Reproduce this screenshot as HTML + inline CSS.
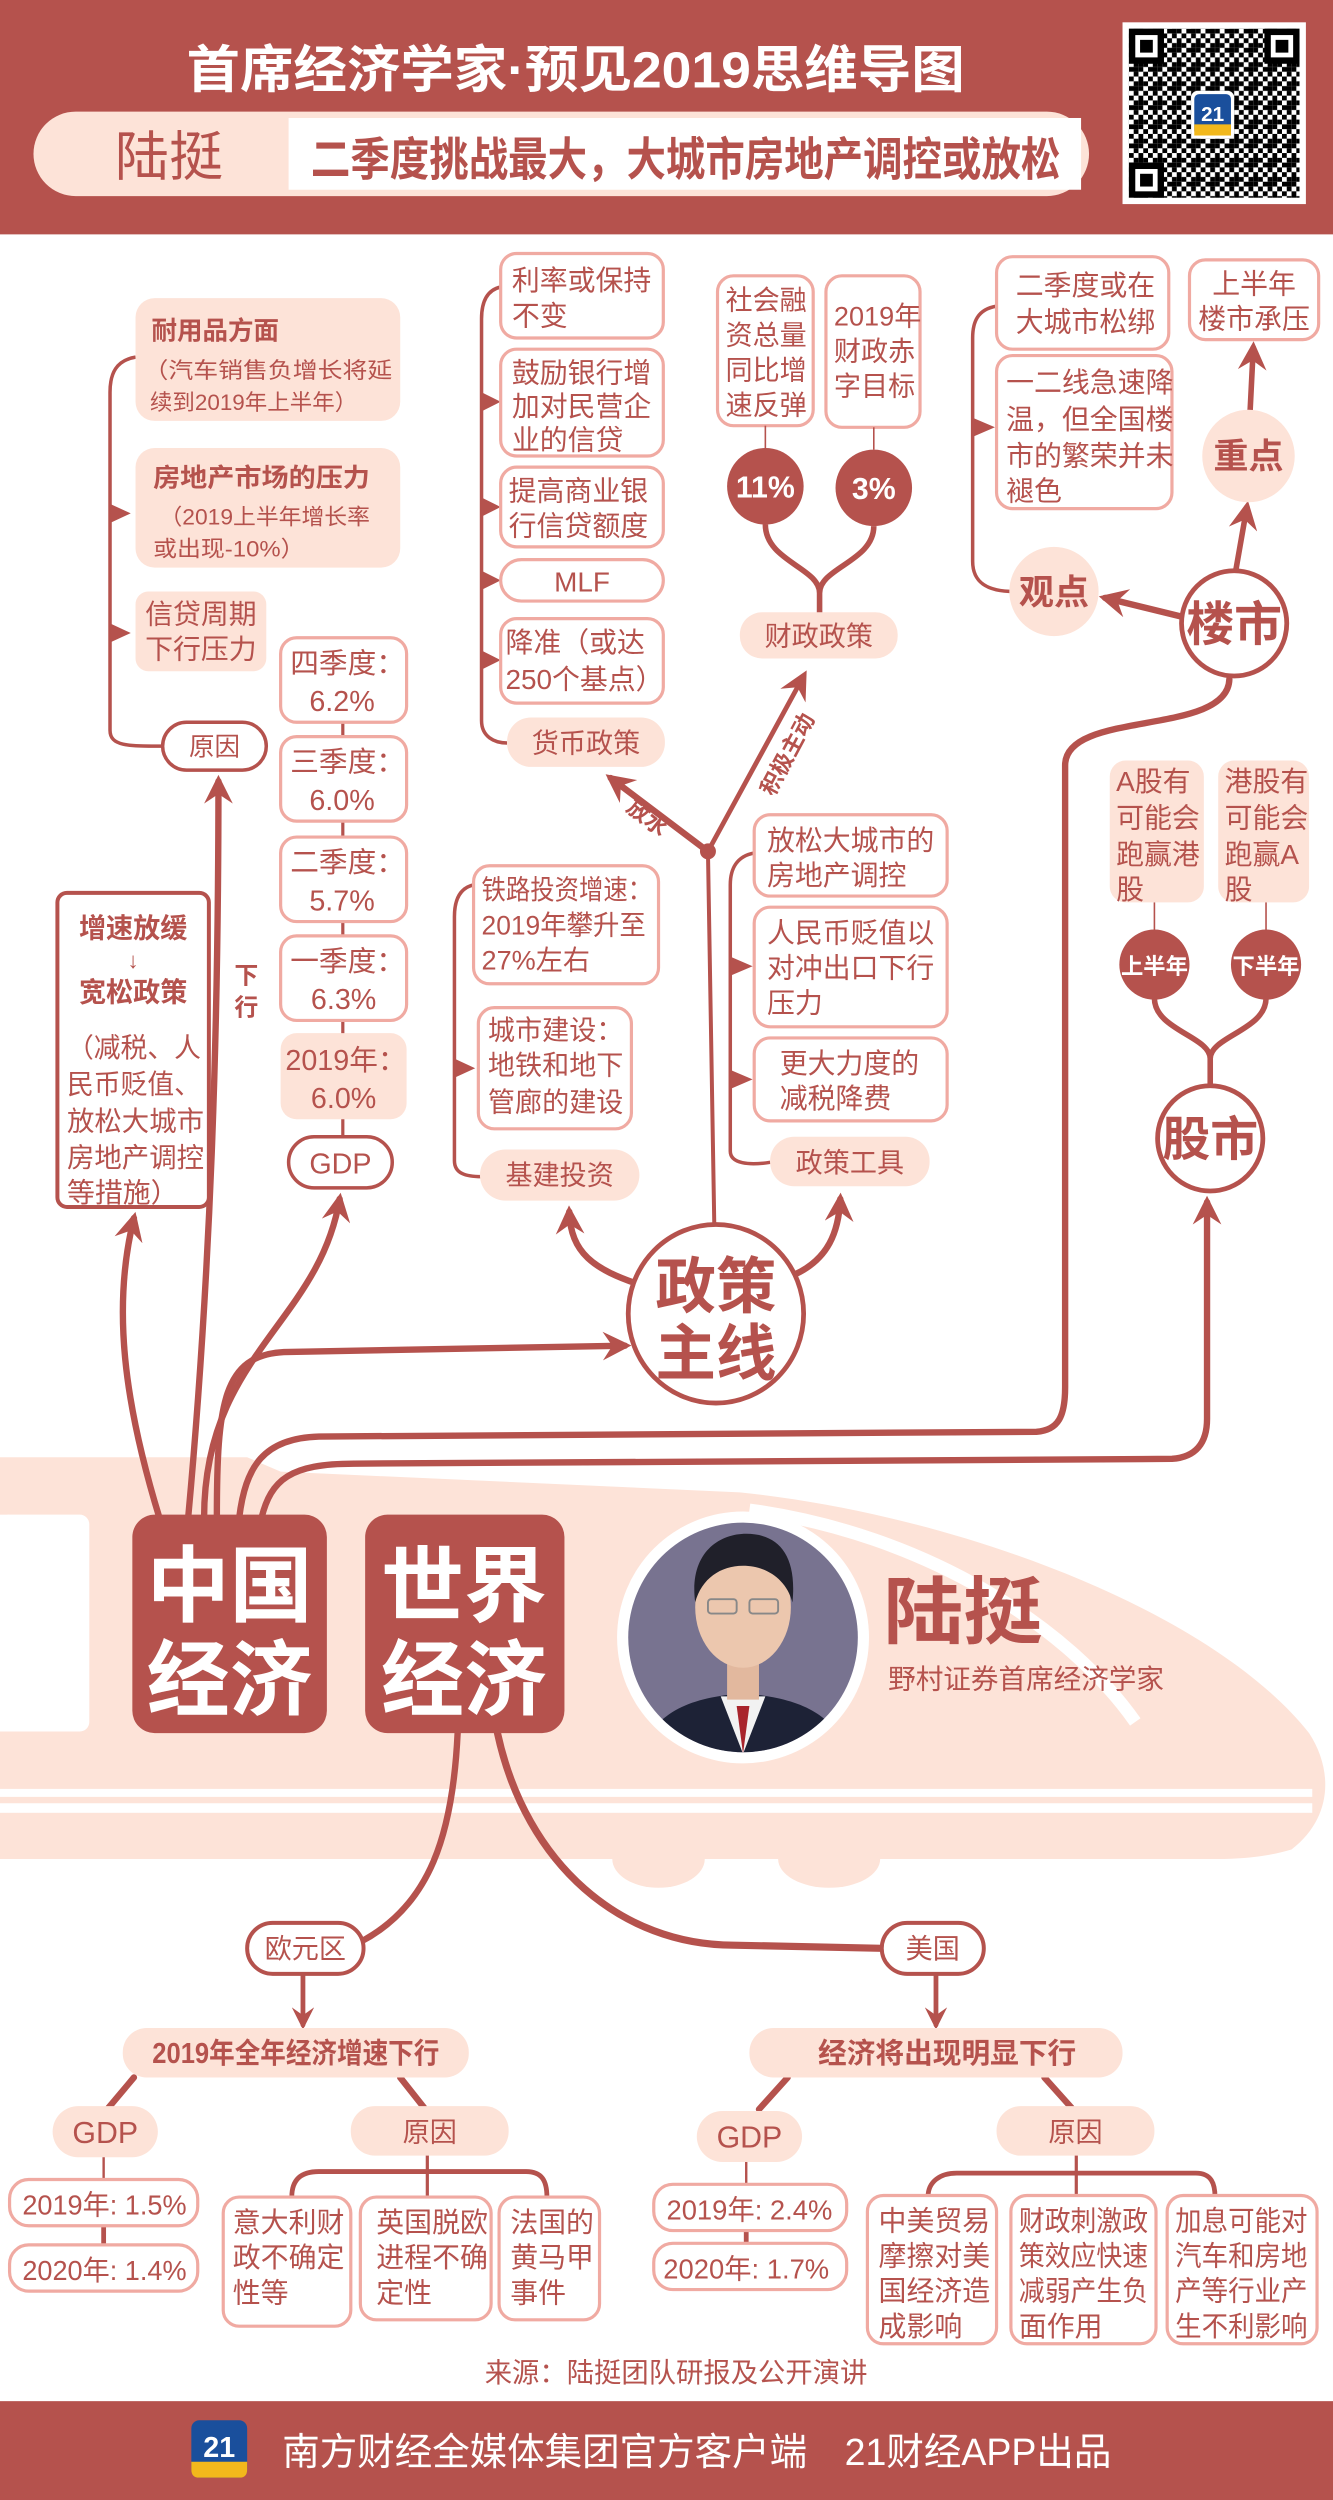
<!DOCTYPE html>
<html><head><meta charset="utf-8">
<style>
html,body{margin:0;padding:0;background:#fff;}
svg{display:block;}
text{font-family:"Liberation Sans","Noto Sans CJK SC",sans-serif;fill:#b5524d;}
.b{font-weight:700;}
.w{fill:#fff;}
</style></head><body>
<svg width="1333" height="2500" viewBox="0 0 836 1568" preserveAspectRatio="none" xmlns="http://www.w3.org/2000/svg">
<defs>
<marker id="ah" markerUnits="userSpaceOnUse" markerWidth="20" markerHeight="18" refX="14" refY="9" orient="auto">
<path d="M0,0 L18,9 L0,18 L6,9 Z" fill="#b5524d"/>
</marker>
<marker id="as" markerUnits="userSpaceOnUse" markerWidth="16" markerHeight="14" refX="11" refY="7" orient="auto">
<path d="M0,0 L14,7 L0,14 L5,7 Z" fill="#b5524d"/>
</marker>
<clipPath id="pc"><circle cx="466" cy="1027" r="72"/></clipPath>
<pattern id="qr" width="12" height="12" patternUnits="userSpaceOnUse">
<rect width="12" height="12" fill="#fff"/>
<rect x="0" y="0" width="3" height="3" fill="#000"/><rect x="6" y="0" width="3" height="6" fill="#000"/>
<rect x="3" y="3" width="3" height="3" fill="#000"/><rect x="9" y="3" width="3" height="3" fill="#000"/>
<rect x="0" y="6" width="6" height="3" fill="#000"/><rect x="9" y="9" width="3" height="3" fill="#000"/>
<rect x="3" y="9" width="3" height="3" fill="#000"/><rect x="6" y="6" width="3" height="3" fill="#000"/>
</pattern>
</defs>

<!-- header -->
<rect x="0" y="0" width="836" height="147" fill="#b5524d"/>
<text class="b w" x="117" y="55" font-size="32" textLength="488" lengthAdjust="spacingAndGlyphs">首席经济学家·预见2019思维导图</text>
<rect x="21" y="70" width="662" height="53" rx="26.5" fill="#fde3d8"/>
<rect x="181" y="74" width="497" height="45" fill="#fff"/>
<text x="72" y="110" font-size="34" textLength="68" lengthAdjust="spacingAndGlyphs">陆挺</text>
<text class="b" x="195" y="110" font-size="29" textLength="470" lengthAdjust="spacingAndGlyphs">二季度挑战最大，大城市房地产调控或放松</text>
<rect x="704" y="14" width="115" height="114" fill="#fff"/>
<rect x="708" y="18" width="107" height="106" fill="url(#qr)"/>
<rect x="708" y="18" width="22" height="22" fill="#000"/><rect x="712" y="22" width="14" height="14" fill="#fff"/><rect x="715" y="25" width="8" height="8" fill="#000"/>
<rect x="793" y="18" width="22" height="22" fill="#000"/><rect x="797" y="22" width="14" height="14" fill="#fff"/><rect x="800" y="25" width="8" height="8" fill="#000"/>
<rect x="708" y="102" width="22" height="22" fill="#000"/><rect x="712" y="106" width="14" height="14" fill="#fff"/><rect x="715" y="109" width="8" height="8" fill="#000"/>
<rect x="747" y="57" width="27" height="30" rx="4" fill="#fff"/>
<rect x="749" y="59" width="23" height="26" rx="3" fill="#1a4f9c"/>
<rect x="749" y="78" width="23" height="7" fill="#f2b81c"/>
<text class="w b" x="760.5" y="76" font-size="13" text-anchor="middle" font-family="Liberation Serif">21</text>

<!-- train -->
<path d="M0,914 L155,914 L176,923 L464,936 C600,950 760,1010 821,1087 C836,1110 836,1140 810,1160 C790,1166 770,1166 757,1166 L0,1166 Z" fill="#fde3d8"/>
<path d="M384,1166 A29,18 0 0 0 442,1166 Z" fill="#fde3d8"/>
<path d="M488,1166 A32,18 0 0 0 552,1166 Z" fill="#fde3d8"/>
<rect x="0" y="950" width="56" height="136" rx="6" fill="#fff"/>
<rect x="-6" y="950" width="12" height="136" fill="#fff"/>
<path d="M470,947 C580,962 670,1020 712,1080" stroke="#fff" stroke-width="8" fill="none"/>
<rect x="0" y="1122" width="823" height="5" fill="#fff"/>
<rect x="0" y="1131" width="823" height="6" fill="#fff"/>

<!-- China fan connectors -->
<g stroke="#b5524d" fill="none" stroke-linecap="round">
<path d="M100,952 C78,880 70,820 84,764" stroke-width="4" marker-end="url(#ah)"/>
<path d="M118,952 C132,800 137,650 137,490" stroke-width="4" marker-end="url(#ah)"/>
<path d="M128,952 C128,850 200,830 213,752" stroke-width="4" marker-end="url(#ah)"/>
<path d="M136,952 C136,880 140,850 178,848 L392,844" stroke-width="4" marker-end="url(#ah)"/>
<path d="M150,952 C154,920 165,902 200,901 L650,898 C664,897 668,888 668,870 L668,480 C668,445 770,462 771,426" stroke-width="4"/>
<path d="M164,952 C170,928 182,918 222,918 L735,915 C750,914 757,905 757,890 L757,754" stroke-width="4" marker-end="url(#ah)"/>
</g>

<!-- China / World boxes -->
<rect x="83" y="950" width="122" height="137" rx="14" fill="#b5524d"/>
<text class="b w" x="144" y="1013" font-size="52" text-anchor="middle">中国</text>
<text class="b w" x="144" y="1072" font-size="52" text-anchor="middle">经济</text>
<rect x="229" y="950" width="125" height="137" rx="14" fill="#b5524d"/>
<text class="b w" x="291" y="1013" font-size="52" text-anchor="middle">世界</text>
<text class="b w" x="291" y="1072" font-size="52" text-anchor="middle">经济</text>

<!-- photo -->
<circle cx="466" cy="1027" r="79" fill="#fff"/>
<g clip-path="url(#pc)">
<rect x="390" y="950" width="160" height="160" fill="#787390"/>
<path d="M400,1110 C405,1075 430,1065 466,1062 C502,1065 528,1075 534,1110 Z" fill="#1d2236"/>
<path d="M452,1064 L466,1100 L480,1064 Z" fill="#f2f2f2"/>
<path d="M462,1070 L466,1100 L470,1070 Z" fill="#a8242c"/>
<rect x="456" y="1040" width="20" height="26" fill="#e2b89e"/>
<ellipse cx="466" cy="1008" rx="30" ry="38" fill="#ecc7ae"/>
<path d="M436,1005 C432,975 450,962 468,962 C488,962 500,975 497,1005 C493,990 480,982 466,982 C452,982 440,990 436,1005 Z" fill="#20202a"/>
<rect x="444" y="1003" width="18" height="9" rx="2" fill="none" stroke="#888" stroke-width="1.2"/>
<rect x="470" y="1003" width="18" height="9" rx="2" fill="none" stroke="#888" stroke-width="1.2"/>
</g>
<text class="b" x="554" y="1027" font-size="46" textLength="100" lengthAdjust="spacingAndGlyphs">陆挺</text>
<text x="557" y="1059" font-size="17" textLength="173" lengthAdjust="spacingAndGlyphs">野村证券首席经济学家</text>

<!-- left column: 原因 -->
<g stroke="#b5524d" fill="none" stroke-width="2.2">
<path d="M85,224 C73,226 69,234 69,246 L69,458 C69,468 80,468 102,468"/>
</g>
<path d="M69,316 L82,322 L69,328 Z" fill="#b5524d"/>
<path d="M69,391 L82,397 L69,403 Z" fill="#b5524d"/>
<rect x="85" y="187" width="166" height="77" rx="12" fill="#fde3d8"/>
<text class="b" x="95" y="213" font-size="16">耐用品方面</text>
<text x="90" y="237" font-size="14" textLength="156" lengthAdjust="spacingAndGlyphs">（汽车销售负增长将延</text>
<text x="94" y="257" font-size="14" textLength="130" lengthAdjust="spacingAndGlyphs">续到2019年上半年）</text>
<rect x="85" y="281" width="166" height="75" rx="12" fill="#fde3d8"/>
<text class="b" x="96" y="305" font-size="16" textLength="136" lengthAdjust="spacingAndGlyphs">房地产市场的压力</text>
<text x="100" y="329" font-size="14" textLength="132" lengthAdjust="spacingAndGlyphs">（2019上半年增长率</text>
<text x="96" y="349" font-size="14" textLength="95" lengthAdjust="spacingAndGlyphs">或出现-10%）</text>
<rect x="85" y="371" width="82" height="50" rx="8" fill="#fde3d8"/>
<text x="91" y="391" font-size="17" textLength="70" lengthAdjust="spacingAndGlyphs">信贷周期</text>
<text x="91" y="413" font-size="17" textLength="70" lengthAdjust="spacingAndGlyphs">下行压力</text>
<rect x="102" y="453" width="65" height="30" rx="15" fill="#fff" stroke="#b5524d" stroke-width="2.2"/>
<text x="134.5" y="474" font-size="16" text-anchor="middle">原因</text>

<!-- 增速放缓 -->
<rect x="36" y="560" width="95" height="197" rx="6" fill="#fff" stroke="#b5524d" stroke-width="2.5"/>
<text class="b" x="83.5" y="588" font-size="17" text-anchor="middle">增速放缓</text>
<text x="83.5" y="607" font-size="14" text-anchor="middle">↓</text>
<text class="b" x="83.5" y="628" font-size="17" text-anchor="middle">宽松政策</text>
<text x="42" y="663" font-size="17" textLength="84" lengthAdjust="spacingAndGlyphs">（减税、人</text>
<text x="42" y="686" font-size="17" textLength="84" lengthAdjust="spacingAndGlyphs">民币贬值、</text>
<text x="42" y="709" font-size="17" textLength="86" lengthAdjust="spacingAndGlyphs">放松大城市</text>
<text x="42" y="732" font-size="17" textLength="86" lengthAdjust="spacingAndGlyphs">房地产调控</text>
<text x="42" y="754" font-size="17" textLength="70" lengthAdjust="spacingAndGlyphs">等措施）</text>
<text class="b" x="147" y="617" font-size="15">下</text>
<text class="b" x="147" y="637" font-size="15">行</text>

<!-- GDP column -->
<line x1="215" y1="453" x2="215" y2="713" stroke="#b5524d" stroke-width="2"/>
<g fill="#fff" stroke="#f0aaa2" stroke-width="2">
<rect x="176" y="400" width="79" height="53" rx="10"/>
<rect x="176" y="462" width="79" height="53" rx="10"/>
<rect x="176" y="525" width="79" height="53" rx="10"/>
<rect x="176" y="587" width="79" height="53" rx="10"/>
</g>
<rect x="176" y="648" width="79" height="54" rx="10" fill="#fde3d8"/>
<g font-size="18">
<text x="182" y="422">四季度：</text><text x="194" y="446">6.2%</text>
<text x="182" y="484">三季度：</text><text x="194" y="508">6.0%</text>
<text x="182" y="547">二季度：</text><text x="194" y="571">5.7%</text>
<text x="182" y="609">一季度：</text><text x="195" y="633">6.3%</text>
<text x="179" y="671">2019年：</text><text x="195" y="695">6.0%</text>
</g>
<rect x="181" y="713" width="65" height="32" rx="16" fill="#fff" stroke="#b5524d" stroke-width="2.2"/>
<text x="213.5" y="736" font-size="18" text-anchor="middle">GDP</text>

<!-- monetary policy -->
<path d="M314,180 C305,182 302,190 302,200 L302,452 C302,462 310,466 318,466" stroke="#b5524d" stroke-width="2.2" fill="none"/>
<g fill="#b5524d"><path d="M302,246 L314,252 L302,258Z"/><path d="M302,312 L314,318 L302,324Z"/><path d="M302,358 L314,364 L302,370Z"/><path d="M302,408 L314,414 L302,420Z"/></g>
<g fill="#fff" stroke="#f0aaa2" stroke-width="2">
<rect x="314" y="159" width="102" height="53" rx="10"/>
<rect x="314" y="219" width="102" height="67" rx="10"/>
<rect x="314" y="293" width="102" height="50" rx="10"/>
<rect x="314" y="351" width="102" height="26" rx="13"/>
<rect x="314" y="388" width="102" height="53" rx="10"/>
</g>
<g font-size="17.5">
<text x="321" y="182">利率或保持</text><text x="321" y="204">不变</text>
<text x="321" y="240">鼓励银行增</text><text x="321" y="261">加对民营企</text><text x="321" y="282">业的信贷</text>
<text x="319" y="314">提高商业银</text><text x="319" y="336">行信贷额度</text>
<text x="365" y="371" text-anchor="middle">MLF</text>
<text x="317" y="409">降准（或达</text><text x="317" y="432">250个基点）</text>
</g>
<rect x="318" y="450" width="99" height="31" rx="15" fill="#fde3d8"/>
<text x="367.5" y="472" font-size="17" text-anchor="middle">货币政策</text>

<!-- fiscal policy -->
<g fill="#fff" stroke="#f0aaa2" stroke-width="2">
<rect x="450" y="173" width="60" height="94" rx="10"/>
<rect x="518" y="173" width="59" height="95" rx="10"/>
</g>
<g font-size="17">
<text x="455" y="194">社会融</text><text x="455" y="216">资总量</text><text x="455" y="238">同比增</text><text x="455" y="260">速反弹</text>
<text x="523" y="204">2019年</text><text x="523" y="226">财政赤</text><text x="523" y="248">字目标</text>
</g>
<g stroke="#b5524d" fill="none">
<line x1="480" y1="267" x2="480" y2="282" stroke-width="1"/>
<line x1="548" y1="268" x2="548" y2="282" stroke-width="1"/>
<path d="M480,329 C480,352 514,356 514,372 M548,330 C548,352 514,356 514,372 L514,386" stroke-width="3.5"/>
</g>
<circle cx="480" cy="305" r="24" fill="#b5524d"/>
<circle cx="548" cy="306" r="24" fill="#b5524d"/>
<text class="b w" x="480" y="312" font-size="19" text-anchor="middle">11%</text>
<text class="b w" x="548" y="313" font-size="19" text-anchor="middle">3%</text>
<rect x="464" y="384" width="99" height="29" rx="14" fill="#fde3d8"/>
<text x="513.5" y="405" font-size="17" text-anchor="middle">财政政策</text>

<!-- policy main line -->
<g stroke="#b5524d" fill="none" stroke-linecap="round">
<line x1="444" y1="534" x2="448" y2="770" stroke-width="2.5"/>
<path d="M444,534 L383,488" stroke-width="4" marker-end="url(#ah)"/>
<path d="M444,534 L504,424" stroke-width="3" marker-end="url(#ah)"/>
<path d="M402,806 C372,796 358,786 357,760" stroke-width="4" marker-end="url(#ah)"/>
<path d="M497,800 C520,790 526,772 527,752" stroke-width="4" marker-end="url(#ah)"/>
</g>
<circle cx="444" cy="534" r="5" fill="#b5524d"/>
<text class="b" font-size="14" transform="translate(392,508) rotate(38)">放水</text>
<text class="b" font-size="14" transform="translate(485,500) rotate(-62)">积极主动</text>
<ellipse cx="449" cy="824" rx="55" ry="56" fill="#fff" stroke="#b5524d" stroke-width="3"/>
<text class="b" x="449" y="820" font-size="38" text-anchor="middle">政策</text>
<text class="b" x="449" y="862" font-size="38" text-anchor="middle">主线</text>

<!-- infrastructure -->
<path d="M297,555 C288,557 285,565 285,575 L285,728 C285,736 292,738 302,738" stroke="#b5524d" stroke-width="2.2" fill="none"/>
<path d="M285,664 L298,670 L285,676Z" fill="#b5524d"/>
<g fill="#fff" stroke="#f0aaa2" stroke-width="2">
<rect x="297" y="543" width="116" height="74" rx="10"/>
<rect x="300" y="632" width="96" height="76" rx="10"/>
</g>
<g font-size="17">
<text x="302" y="564" textLength="107" lengthAdjust="spacingAndGlyphs">铁路投资增速：</text>
<text x="302" y="586" textLength="103" lengthAdjust="spacingAndGlyphs">2019年攀升至</text>
<text x="302" y="608">27%左右</text>
<text x="306" y="652">城市建设：</text><text x="306" y="674">地铁和地下</text><text x="306" y="697">管廊的建设</text>
</g>
<rect x="301" y="721" width="100" height="32" rx="16" fill="#fde3d8"/>
<text x="351" y="743" font-size="17" text-anchor="middle">基建投资</text>

<!-- policy tools -->
<path d="M473,535 C462,537 458,545 458,555 L458,722 C458,730 470,731 483,729" stroke="#b5524d" stroke-width="2.2" fill="none"/>
<g fill="#b5524d"><path d="M458,600 L472,606 L458,612Z"/><path d="M458,671 L472,677 L458,683Z"/></g>
<g fill="#fff" stroke="#f0aaa2" stroke-width="2">
<rect x="473" y="511" width="121" height="51" rx="10"/>
<rect x="473" y="569" width="121" height="75" rx="10"/>
<rect x="473" y="651" width="121" height="52" rx="10"/>
</g>
<g font-size="17.5">
<text x="481" y="533">放松大城市的</text><text x="481" y="555">房地产调控</text>
<text x="481" y="591">人民币贬值以</text><text x="481" y="613">对冲出口下行</text><text x="481" y="635">压力</text>
<text x="489" y="673">更大力度的</text><text x="489" y="695">减税降费</text>
</g>
<rect x="483" y="713" width="100" height="31" rx="15" fill="#fde3d8"/>
<text x="533" y="735" font-size="17" text-anchor="middle">政策工具</text>

<!-- property market -->
<path d="M625,192 C613,194 610,202 610,212 L610,352 C610,366 620,371 636,371" stroke="#b5524d" stroke-width="2.2" fill="none"/>
<path d="M610,262 L624,268 L610,274Z" fill="#b5524d"/>
<g stroke="#b5524d" fill="none" stroke-linecap="round">
<path d="M742,387 L693,375" stroke-width="4" marker-end="url(#ah)"/>
<path d="M775,358 L782,318" stroke-width="3.5" marker-end="url(#ah)"/>
<path d="M784,258 L786,218" stroke-width="3.5" marker-end="url(#ah)"/>
</g>
<g fill="#fff" stroke="#f0aaa2" stroke-width="2">
<rect x="625" y="161" width="108" height="58" rx="10"/>
<rect x="625" y="223" width="110" height="96" rx="10"/>
<rect x="746" y="163" width="81" height="50" rx="10"/>
</g>
<g font-size="17.5">
<text x="637" y="185">二季度或在</text><text x="637" y="208">大城市松绑</text>
<text x="631" y="246">一二线急速降</text><text x="631" y="269">温，但全国楼</text><text x="631" y="292">市的繁荣并未</text><text x="631" y="314">褪色</text>
<text x="786.5" y="184" text-anchor="middle">上半年</text><text x="786.5" y="206" text-anchor="middle">楼市承压</text>
</g>
<circle cx="783" cy="286" r="29" fill="#fde3d8"/>
<text class="b" x="783" y="294" font-size="22" text-anchor="middle">重点</text>
<circle cx="661" cy="371" r="28" fill="#fde3d8"/>
<text class="b" x="661" y="379" font-size="22" text-anchor="middle">观点</text>
<circle cx="774" cy="391" r="33" fill="#fff" stroke="#b5524d" stroke-width="3"/>
<text class="b" x="774" y="402" font-size="30" text-anchor="middle">楼市</text>

<!-- stock market -->
<rect x="696" y="477" width="59" height="89" rx="10" fill="#fde3d8"/>
<rect x="764" y="477" width="57" height="89" rx="10" fill="#fde3d8"/>
<g font-size="17.5">
<text x="700" y="496">A股有</text><text x="700" y="519">可能会</text><text x="700" y="542">跑赢港</text><text x="700" y="564">股</text>
<text x="768" y="496">港股有</text><text x="768" y="519">可能会</text><text x="768" y="542">跑赢A</text><text x="768" y="564">股</text>
</g>
<g stroke="#b5524d" fill="none">
<line x1="724" y1="566" x2="724" y2="584" stroke-width="1"/>
<line x1="794" y1="566" x2="794" y2="584" stroke-width="1"/>
<path d="M724,626 C724,646 759,650 759,664 M794,626 C794,646 759,650 759,664 L759,682" stroke-width="3.5"/>
</g>
<circle cx="724" cy="605" r="22" fill="#b5524d"/>
<circle cx="794" cy="605" r="22" fill="#b5524d"/>
<text class="b w" x="724" y="611" font-size="14" text-anchor="middle">上半年</text>
<text class="b w" x="794" y="611" font-size="14" text-anchor="middle">下半年</text>
<circle cx="759" cy="714" r="33" fill="#fff" stroke="#b5524d" stroke-width="3"/>
<text class="b" x="759" y="725" font-size="30" text-anchor="middle">股市</text>

<!-- world section connectors -->
<g stroke="#b5524d" fill="none" stroke-linecap="round">
<path d="M287,1087 C284,1150 270,1195 226,1218" stroke-width="4"/>
<path d="M312,1087 C330,1170 390,1220 460,1220 L553,1222" stroke-width="4.5"/>
<path d="M190,1238 L190,1270" stroke-width="3" marker-end="url(#as)"/>
<path d="M587,1238 L587,1270" stroke-width="3" marker-end="url(#as)"/>
<path d="M84,1303 L68,1322" stroke-width="4"/>
<path d="M251,1303 L266,1322" stroke-width="4"/>
<path d="M494,1303 L476,1323" stroke-width="4"/>
<path d="M655,1303 L672,1322" stroke-width="4"/>
<path d="M183,1378 C183,1366 190,1362 200,1362 L330,1362 C340,1362 343,1368 343,1378" stroke-width="3"/>
<path d="M582,1378 C582,1368 590,1363 600,1363 L750,1363 C760,1363 762,1370 762,1378" stroke-width="3"/>
<line x1="268" y1="1352" x2="268" y2="1380" stroke-width="2"/>
<line x1="675" y1="1352" x2="675" y2="1380" stroke-width="2"/>
<line x1="65" y1="1353" x2="65" y2="1368" stroke-width="1.5"/>
<line x1="65" y1="1396" x2="65" y2="1409" stroke-width="3"/>
<line x1="468" y1="1356" x2="468" y2="1371" stroke-width="1.5"/>
<line x1="468" y1="1399" x2="468" y2="1408" stroke-width="3"/>
</g>
<rect x="155" y="1206" width="73" height="32" rx="16" fill="#fff" stroke="#b5524d" stroke-width="2.5"/>
<text x="191.5" y="1228" font-size="17" text-anchor="middle">欧元区</text>
<rect x="553" y="1206" width="64" height="32" rx="16" fill="#fff" stroke="#b5524d" stroke-width="2.5"/>
<text x="585" y="1228" font-size="17" text-anchor="middle">美国</text>
<rect x="77" y="1272" width="217" height="31" rx="15" fill="#fde3d8"/>
<text class="b" x="185.5" y="1294" font-size="18" text-anchor="middle" textLength="180" lengthAdjust="spacingAndGlyphs">2019年全年经济增速下行</text>
<rect x="470" y="1272" width="234" height="31" rx="15" fill="#fde3d8"/>
<text class="b" x="594" y="1294" font-size="18" text-anchor="middle">经济将出现明显下行</text>
<rect x="33" y="1321" width="66" height="32" rx="16" fill="#fde3d8"/>
<text x="66" y="1344" font-size="19" text-anchor="middle">GDP</text>
<rect x="220" y="1321" width="99" height="31" rx="15" fill="#fde3d8"/>
<text x="269.5" y="1343" font-size="17" text-anchor="middle">原因</text>
<rect x="437" y="1324" width="66" height="32" rx="16" fill="#fde3d8"/>
<text x="470" y="1347" font-size="19" text-anchor="middle">GDP</text>
<rect x="625" y="1321" width="99" height="31" rx="15" fill="#fde3d8"/>
<text x="674.5" y="1343" font-size="17" text-anchor="middle">原因</text>
<g fill="#fff" stroke="#f0aaa2" stroke-width="2">
<rect x="6" y="1367" width="118" height="29" rx="12"/>
<rect x="6" y="1408" width="118" height="29" rx="12"/>
<rect x="410" y="1370" width="121" height="29" rx="12"/>
<rect x="410" y="1407" width="121" height="29" rx="12"/>
<rect x="140" y="1378" width="80" height="81" rx="10"/>
<rect x="226" y="1378" width="82" height="77" rx="10"/>
<rect x="313" y="1378" width="63" height="77" rx="10"/>
<rect x="544" y="1377" width="81" height="93" rx="10"/>
<rect x="634" y="1377" width="91" height="93" rx="10"/>
<rect x="732" y="1377" width="94" height="93" rx="10"/>
</g>
<g font-size="17.5">
<text x="14" y="1389" textLength="103" lengthAdjust="spacingAndGlyphs">2019年: 1.5%</text>
<text x="14" y="1430" textLength="103" lengthAdjust="spacingAndGlyphs">2020年: 1.4%</text>
<text x="418" y="1392" textLength="104" lengthAdjust="spacingAndGlyphs">2019年: 2.4%</text>
<text x="416" y="1429" textLength="104" lengthAdjust="spacingAndGlyphs">2020年: 1.7%</text>
<text x="146" y="1400">意大利财</text><text x="146" y="1422">政不确定</text><text x="146" y="1444">性等</text>
<text x="236" y="1400">英国脱欧</text><text x="236" y="1422">进程不确</text><text x="236" y="1444">定性</text>
<text x="320" y="1400">法国的</text><text x="320" y="1422">黄马甲</text><text x="320" y="1444">事件</text>
<text x="551" y="1399">中美贸易</text><text x="551" y="1421">摩擦对美</text><text x="551" y="1443">国经济造</text><text x="551" y="1465">成影响</text>
<text x="639" y="1399" textLength="81" lengthAdjust="spacingAndGlyphs">财政刺激政</text><text x="639" y="1421" textLength="81" lengthAdjust="spacingAndGlyphs">策效应快速</text><text x="639" y="1443" textLength="81" lengthAdjust="spacingAndGlyphs">减弱产生负</text><text x="639" y="1465">面作用</text>
<text x="737" y="1399" textLength="83" lengthAdjust="spacingAndGlyphs">加息可能对</text><text x="737" y="1421" textLength="83" lengthAdjust="spacingAndGlyphs">汽车和房地</text><text x="737" y="1443" textLength="83" lengthAdjust="spacingAndGlyphs">产等行业产</text><text x="737" y="1465" textLength="83" lengthAdjust="spacingAndGlyphs">生不利影响</text>
</g>
<text x="304" y="1494" font-size="17" textLength="240" lengthAdjust="spacingAndGlyphs">来源：陆挺团队研报及公开演讲</text>

<!-- footer -->
<rect x="0" y="1506" width="836" height="62" fill="#b5524d"/>
<rect x="120" y="1518" width="35" height="36" rx="5" fill="#1a4f9c"/>
<path d="M120,1544 L155,1544 L155,1549 Q155,1554 150,1554 L125,1554 Q120,1554 120,1549 Z" fill="#f2b81c"/>
<text class="b w" x="137.5" y="1541" font-size="18" text-anchor="middle" font-family="Liberation Serif">21</text>
<text class="w" x="177" y="1546" font-size="24" textLength="520" lengthAdjust="spacingAndGlyphs">南方财经全媒体集团官方客户端　21财经APP出品</text>
</svg>
</body></html>
